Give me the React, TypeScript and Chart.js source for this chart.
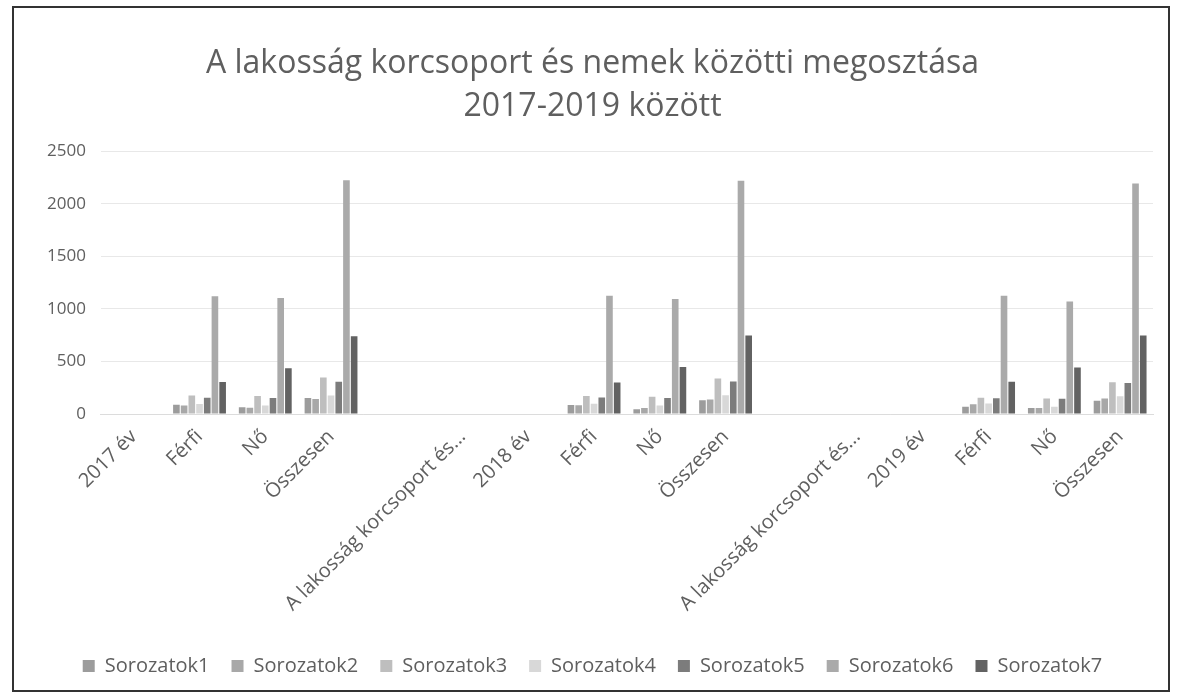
import React, { useEffect, useRef } from "react";
import { Chart, registerables } from "chart.js";

Chart.register(...registerables);

const categories = [
  "2017 év", "Férfi", "Nő", "Összesen", "", "A lakosság korcsoport és...",
  "2018 év", "Férfi", "Nő", "Összesen", "", "A lakosság korcsoport és...",
  "2019 év", "Férfi", "Nő", "Összesen",
];

const seriesNames = ["Sorozatok1", "Sorozatok2", "Sorozatok3", "Sorozatok4", "Sorozatok5", "Sorozatok6", "Sorozatok7"];

const s1 = [null, 89, 64, 153, null, null, null, 85, 45, 130, null, null, null, 69, 56, 125];
const s2 = [null, 82, 60, 142, null, null, null, 83, 56, 139, null, null, null, 92, 56, 148];
const s3 = [null, 175, 172, 347, null, null, null, 172, 165, 337, null, null, null, 155, 148, 303];
const s4 = [null, 95, 82, 177, null, null, null, 98, 80, 178, null, null, null, 100, 68, 168];
const s5 = [null, 155, 152, 307, null, null, null, 156, 153, 309, null, null, null, 150, 145, 295];
const s6 = [null, 1120, 1105, 2225, null, null, null, 1125, 1095, 2220, null, null, null, 1125, 1070, 2195];
const s7 = [null, 305, 436, 741, null, null, null, 300, 448, 748, null, null, null, 306, 442, 748];

const seriesValues = [s1, s2, s3, s4, s5, s6, s7];
const seriesColors = ["#9c9c9c", "#a8a8a8", "#bebebe", "#d8d8d8", "#7c7c7c", "#aaaaaa", "#626262"];

const yTicks = [0, 500, 1000, 1500, 2000, 2500];

const titleLines = ["A lakosság korcsoport és nemek közötti megosztása", "2017-2019 között"];

const FONT = "'Open Sans', sans-serif";
const TEXT = "#5f5f5f";

export default function App() {
  const ref = useRef<HTMLCanvasElement | null>(null);

  useEffect(() => {
    if (!ref.current) return;
    const chart = new Chart(ref.current, {
      type: "bar",
      data: {
        labels: categories,
        datasets: seriesNames.map((name, i) => ({
          label: name,
          data: seriesValues[i],
          backgroundColor: seriesColors[i],
          borderWidth: 0,
          categoryPercentage: 0.82,
          barPercentage: 0.86,
        })),
      },
      options: {
        animation: false,
        responsive: false,
        maintainAspectRatio: false,
        layout: { padding: { left: 18, right: 15, top: 14, bottom: 4 } },
        plugins: {
          title: {
            display: true,
            text: titleLines,
            color: TEXT,
            font: { family: FONT, size: 32, weight: "normal", lineHeight: 1.35 },
            padding: { top: 20, bottom: 23 },
          },
          legend: {
            position: "bottom",
            labels: {
              color: TEXT,
              font: { family: FONT, size: 20 },
              boxWidth: 12,
              boxHeight: 12,
              padding: 22,
            },
          },
          tooltip: { enabled: false },
        },
        scales: {
          x: {
            grid: { display: false },
            border: { color: "#dcdcdc" },
            afterFit: (axis: any) => {
              axis.height = 220;
            },
            ticks: {
              autoSkip: false,
              maxRotation: 45,
              minRotation: 45,
              color: TEXT,
              font: { family: FONT, size: 20 },
            },
          },
          y: {
            min: yTicks[0],
            max: yTicks[yTicks.length - 1],
            afterBuildTicks: (axis: any) => {
              axis.ticks = yTicks.map((v) => ({ value: v }));
            },
            grid: { color: "#e8e8e8", drawTicks: false },
            border: { display: false },
            ticks: {
              color: TEXT,
              font: { family: FONT, size: 17 },
              padding: 15,
              callback: (v: any) => String(v),
            },
          },
        },
      },
    });
    return () => chart.destroy();
  }, []);

  return (
    <div
      style={{
        position: "absolute",
        left: 12,
        top: 6,
        width: 1158,
        height: 686,
        border: "2px solid #333",
        boxSizing: "border-box",
        background: "#fff",
      }}
    >
      <canvas ref={ref} width={1154} height={682} style={{ display: "block" }} />
    </div>
  );
}
